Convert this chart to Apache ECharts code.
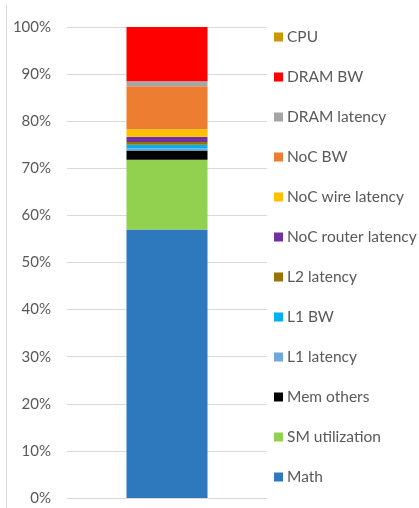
<!DOCTYPE html>
<html><head><meta charset="utf-8">
<script src="https://cdn.jsdelivr.net/npm/echarts@6/dist/echarts.min.js"></script>
<style>html,body{margin:0;padding:0;background:#fff}#c{width:419px;height:508px}</style>
</head><body><div id="c"></div>
<script>
// Stacking order, bottom to top
const seriesNames = ['Math','SM utilization','Mem others','L1 latency','L1 BW','L2 latency','NoC router latency','NoC wire latency','NoC BW','DRAM latency','DRAM BW','CPU'];
const seriesValues = [57.0, 14.8, 2.0, 0.4, 0.8, 0.6, 1.1, 1.6, 9.1, 1.1, 11.5, 0.0];
const seriesColors = ['#2E78BE','#92D050','#000000','#6FA8DC','#00B0F0','#997300','#7030A0','#FFC000','#ED7D31','#A5A5A5','#FF0000','#C99A00'];
const categories = [''];
const yTicks = [0,10,20,30,40,50,60,70,80,90,100];

const chart = echarts.init(document.getElementById('c'));
chart.setOption({
  animation: false,
  backgroundColor: '#fff',
  grid: {left: 67, right: 152, top: 27, bottom: 10},
  xAxis: {type: 'category', data: categories, axisLine: {show: false}, axisTick: {show: false}, axisLabel: {show: false}},
  yAxis: {type: 'value', min: yTicks[0], max: yTicks[yTicks.length-1], interval: 10,
    axisLine: {show: false}, axisTick: {show: false},
    splitLine: {lineStyle: {color: '#D9D9D9', width: 1}},
    axisLabel: {formatter: v => v + '%', color: '#595959', fontSize: 15, fontFamily: 'Lato', margin: 16}},
  legend: {orient: 'vertical', left: 269, top: 24, itemWidth: 9, itemHeight: 9, itemGap: 24, icon: 'rect',
    data: seriesNames.slice().reverse(),
    textStyle: {color: '#595959', fontSize: 15.5, fontFamily: 'Lato', lineHeight: 16, padding: [0,0,0,-1]}},
  graphic: [{type: 'line', shape: {x1: 6.5, y1: 5, x2: 6.5, y2: 508}, style: {stroke: '#D9D9D9', lineWidth: 1}, silent: true}],
  series: seriesNames.map((n, i) => ({
    name: n, type: 'bar', stack: 'all', barWidth: 81,
    data: [seriesValues[i]],
    itemStyle: {color: seriesColors[i]}
  }))
});
</script></body></html>
